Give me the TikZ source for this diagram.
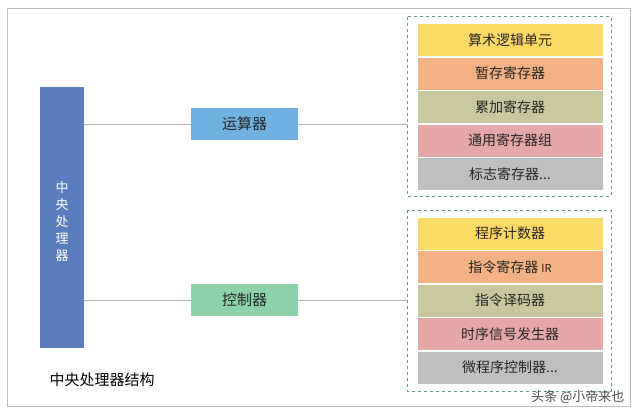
\documentclass[tikz,border=0pt]{standalone}
\usepackage{fontspec}
\setmainfont{Noto Sans CJK SC}
\begin{document}
\begin{tikzpicture}[x=1pt,y=-1pt,
 row/.style={draw=white,line width=0.8pt,minimum width=186pt,minimum height=33pt,inner sep=0pt,font=\fontsize{14}{16}\selectfont,text=black!85},
 mid/.style={minimum width=107pt,minimum height=32pt,inner sep=0pt,font=\fontsize{15}{17}\selectfont,text=black!85},
 grp/.style={draw=teal!60!gray!80,dashed,line width=1pt},
 ln/.style={draw=gray!60,line width=0.7pt}]
\definecolor{cy}{HTML}{FFD966}\definecolor{co}{HTML}{F4B183}\definecolor{cl}{HTML}{C8C79F}
\definecolor{cp}{HTML}{E6A7A7}\definecolor{cg}{HTML}{BFBFBF}
\useasboundingbox (0,0) rectangle (640,417);
\fill[white] (0,0) rectangle (640,417);
\draw[gray!50,line width=0.7pt] (7,8) rectangle (630,406);
\node[fill={rgb,255:red,91;green,124;blue,190},minimum width=44pt,minimum height=261pt,inner sep=0pt] (cpu) at (62,217.5) {};
\node[text=white,align=center,font=\fontsize{13}{17}\selectfont] at (62,222) {中\\央\\处\\理\\器};
\node[mid,fill={rgb,255:red,111;green,178;blue,225}] (alu) at (244.5,124) {运算器};
\node[mid,fill={rgb,255:red,141;green,211;blue,170}] (ctl) at (244.5,300) {控制器};
\draw[grp] (407,17) rectangle (611,196);
\draw[grp] (407,210) rectangle (611,391);
\coordinate (g1) at (407,124); \coordinate (g2) at (407,300);
\draw[ln] (cpu.east|-alu) -- (alu.west); \draw[ln] (alu.east) -- (g1);
\draw[ln] (cpu.east|-ctl) -- (ctl.west); \draw[ln] (ctl.east) -- (g2);
\node[row,fill=cy] (a1) at (510,40) {算术逻辑单元};
\node[row,fill=co] (a2) at (510,73.5) {暂存寄存器};
\node[row,fill=cl] (a3) at (510,107) {累加寄存器};
\node[row,fill=cp] (a4) at (510,140.5) {通用寄存器组};
\node[row,fill=cg] (a5) at (510,174) {标志寄存器...};
\node[row,fill=cy] (b1) at (510,233.5) {程序计数器};
\node[row,fill=co] (b2) at (510,267) {指令寄存器 {\fontsize{11}{12}\selectfont IR}};
\node[row,fill=cl] (b3) at (510,300.5) {指令译码器};
\node[row,fill=cp] (b4) at (510,334) {时序信号发生器};
\node[row,fill=cg] (b5) at (510,367.5) {微程序控制器...};
\node[font=\fontsize{15}{17}\selectfont,anchor=west] (cap) at (46,380) {中央处理器结构};
\node[font=\fontsize{13}{15}\selectfont,text=black!70,anchor=east] (wm) at (628,397) {头条 @小帝来也};
\end{tikzpicture}
\end{document}
